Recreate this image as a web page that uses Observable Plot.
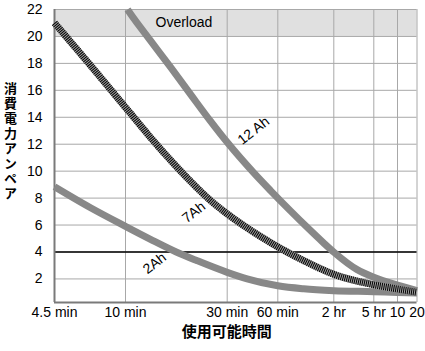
<!DOCTYPE html>
<html><head><meta charset="utf-8">
<script src="https://cdn.jsdelivr.net/npm/d3@7"></script>
<script src="https://cdn.jsdelivr.net/npm/@observablehq/plot@0.6"></script>
<style>body{margin:0;background:#fff}</style>
</head><body><div id="chart"></div>
<script>
// x ticks (minutes) and their labels
const xTickMinutes = [4.5, 10, 30, 60, 120, 300, 600, 1200];
const xTickLabels = ["4.5 min", "10 min", "30 min", "60 min", "2 hr", "5 hr", "10", "20"];
const yTicks = [2, 4, 6, 8, 10, 12, 14, 16, 18, 20, 22];
const overloadBand = [20, 22];
const limitAmps = 4;
const yLabel = "消費電力アンペア";
const xLabel = "使用可能時間";

// 2Ah
const minutes2Ah = [4.5, 6.75, 10, 13.1, 17.3, 21.7, 30, 39.4, 60, 82.6, 120, 300, 600, 1200];
const amps2Ah    = [8.84, 7.28, 5.9, 4.94, 4.0, 3.35, 2.49, 2.01, 1.49, 1.27, 1.13, 1.05, 0.99, 0.95];
// 7Ah
const minutes7Ah = [4.5, 6.75, 10, 10.55, 13.1, 16.3, 20.2, 25, 30, 39.4, 51.5, 60, 82.8, 120, 300, 600, 1200];
const amps7Ah    = [21.0, 17.85, 14.73, 14.29, 12.5, 10.8, 9.24, 7.83, 6.83, 5.79, 4.87, 4.38, 3.35, 2.34, 1.57, 1.25, 1.01];
// 12Ah
const minutes12Ah = [10.22, 10.55, 13.1, 16.3, 20.2, 25, 30, 43.2, 54.3, 70.2, 86.3, 106, 120, 205, 300, 600, 1200];
const amps12Ah    = [22.0, 21.68, 19.69, 17.7, 15.7, 13.73, 12.14, 9.87, 8.56, 7.05, 5.83, 4.66, 3.99, 2.69, 2.13, 1.54, 1.13];

const curveNames = ["12 Ah", "7Ah", "2Ah"];
const labelMinutes = [43, 20.9, 13.7];
const labelAmps = [13.0, 6.95, 3.16];

const rows = (name, ms, as) => ms.map((m, i) => ({battery: name, minutes: m, amps: as[i]}));
const data2 = rows("2Ah", minutes2Ah, amps2Ah);
const data7 = rows("7Ah", minutes7Ah, amps7Ah);
const data12 = rows("12 Ah", minutes12Ah, amps12Ah);
const labels = curveNames.map((n, i) => ({name: n, minutes: labelMinutes[i], amps: labelAmps[i]}));
const xTicks = xTickMinutes.map((m, i) => ({minutes: m, label: xTickLabels[i]}));

const yMin = 0.25;
const cjk = "'Noto Sans CJK JP', 'Noto Sans', sans-serif";

const chart = Plot.plot({
  width: 425, height: 351,
  marginLeft: 54, marginRight: 8.5, marginTop: 9, marginBottom: 49,
  style: {fontFamily: "'Liberation Sans', Arial, sans-serif", fontSize: "14px", color: "#000", background: "#fff", overflow: "visible"},
  x: {type: "log", domain: xTickMinutes, range: [54, 125, 226.7, 277.3, 333.3, 373.3, 397, 416.5], axis: null},
  y: {domain: [yMin, 22], ticks: yTicks, tickSize: 0, tickPadding: 12, label: null},
  marks: [
    Plot.rect([0], {x1: xTickMinutes[0], x2: xTickMinutes[xTickMinutes.length - 1], y1: overloadBand[0], y2: overloadBand[1], fill: "#e0e0e0"}),
    Plot.ruleY(yTicks, {stroke: "#a8a8a8", strokeWidth: 1}),
    Plot.ruleX(xTickMinutes.slice(1), {stroke: "#a8a8a8", strokeWidth: 1}),
    Plot.ruleY([limitAmps], {stroke: "#000", strokeWidth: 1.5}),
    Plot.ruleX([xTickMinutes[0]], {stroke: "#7a7a7a", strokeWidth: 2}),
    Plot.ruleY([yMin], {stroke: "#7a7a7a", strokeWidth: 2}),
    Plot.text(xTicks, {x: "minutes", text: "label", frameAnchor: "bottom", dy: 14, fontSize: 14}),
    Plot.text(["Overload"], {x: 18.8, y: 21, text: d => d, fontSize: 14}),
    Plot.line(data2, {x: "minutes", y: "amps", stroke: "#888", strokeWidth: 7, curve: "monotone-x", strokeLinecap: "butt"}),
    Plot.line(data12, {x: "minutes", y: "amps", stroke: "#888", strokeWidth: 7, curve: "monotone-x", strokeLinecap: "butt"}),
    Plot.line(data7, {x: "minutes", y: "amps", stroke: "#a0a0a0", strokeWidth: 7, curve: "monotone-x", strokeLinecap: "butt"}),
    Plot.line(data7, {x: "minutes", y: "amps", stroke: "#000", strokeWidth: 7, strokeDasharray: "1,1", curve: "monotone-x", strokeLinecap: "butt"}),
    Plot.text(labels, {x: "minutes", y: "amps", text: "name", rotate: -38, fontSize: 14}),
    Plot.text([yLabel], {frameAnchor: "left", dx: -44, dy: -19, text: d => d, fontWeight: "bold", fontSize: 13, fontFamily: cjk}),
    Plot.text([xLabel], {frameAnchor: "bottom", dx: -9, dy: 34, text: d => d, fontWeight: "bold", fontSize: 15, fontFamily: cjk})
  ]
});
// set the y label in upright vertical writing, centred on its anchor
d3.select(chart).selectAll("text")
  .filter(function() { return this.textContent === yLabel; })
  .style("writing-mode", "vertical-rl")
  .style("text-orientation", "upright")
  .style("letter-spacing", "2px")
  .attr("text-anchor", "middle")
  .attr("dy", null);
document.getElementById("chart").appendChild(chart);
</script>
</body></html>
